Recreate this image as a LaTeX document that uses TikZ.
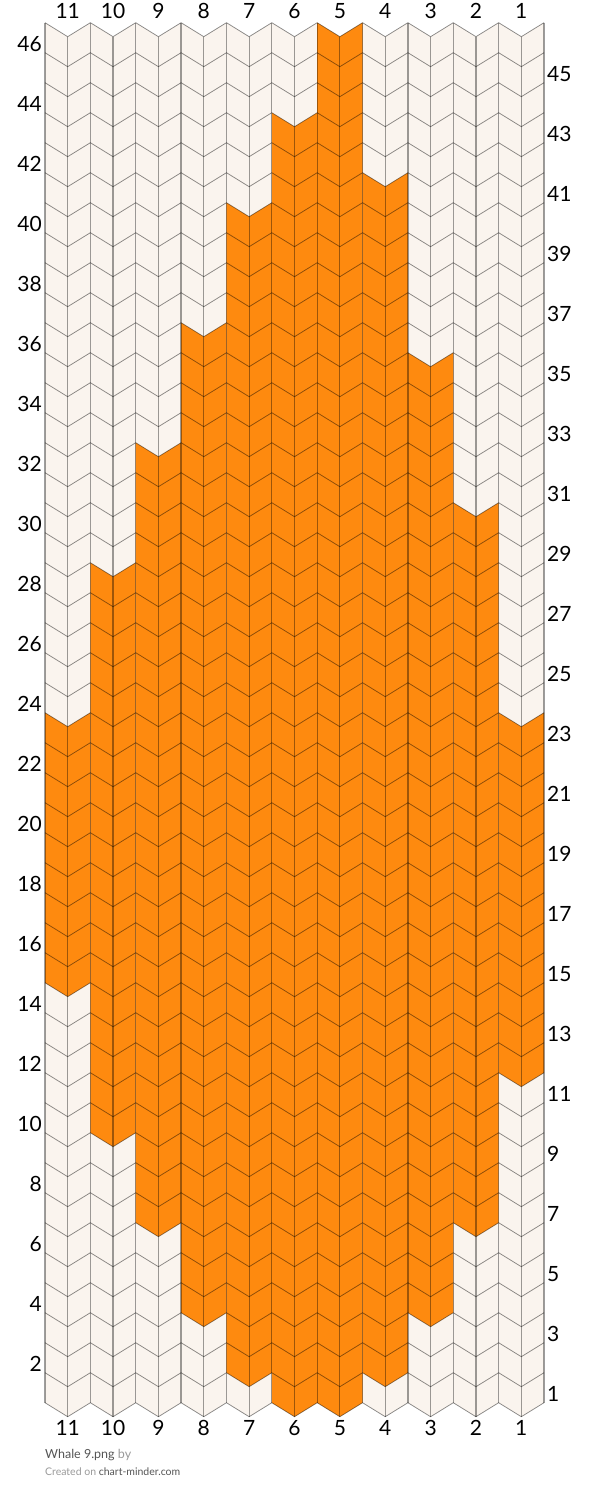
\documentclass[tikz,border=0pt]{standalone}
\usepackage{fontspec}
\setmainfont{Lato}
\definecolor{cream}{HTML}{FAF4EE}
\definecolor{knitorange}{HTML}{FE8A0F}
\definecolor{darktxt}{HTML}{555555}
\definecolor{lighttxt}{HTML}{9A9A9A}
\tikzset{
  vline/.style={draw=black, draw opacity=0.38, line width=1.2pt},
  chevline/.style={draw=black, draw opacity=0.45, line width=0.75pt, line join=miter},
  numlabel/.style={inner sep=0pt, font=\fontsize{21}{21}\selectfont},
}
\begin{document}
\begin{tikzpicture}[x=1pt,y=-1pt]
\def\w{45.3636}
\fill[white] (0,0) rectangle (589,1503);
\useasboundingbox (0,0) rectangle (589,1503);
% cream background per column
\foreach \i in {0,...,10} {
  \fill[cream] ({45+\i*\w},22.7) -- ({45+(\i+0.5)*\w},36.7) -- ({45+(\i+1)*\w},22.7)
    -- ({45+(\i+1)*\w},1402.7) -- ({45+(\i+0.5)*\w},1416.7) -- ({45+\i*\w},1402.7) -- cycle;
}
% orange columns: column/lowest row/highest row
\foreach \c/\lo/\hi in {1/12/23, 2/7/30, 3/4/35, 4/2/41, 5/1/46, 6/1/43, 7/2/40, 8/4/36, 9/7/32, 10/10/28, 11/15/23} {
  \pgfmathsetmacro\xa{45+(11-\c)*\w}
  \pgfmathsetmacro\xm{\xa+0.5*\w}
  \pgfmathsetmacro\xb{\xa+\w}
  \pgfmathsetmacro\yt{22.7+(46-\hi)*30}
  \pgfmathsetmacro\yb{22.7+(47-\lo)*30}
  \fill[knitorange] (\xa,\yt) -- (\xm,{\yt+14}) -- (\xb,\yt) -- (\xb,\yb) -- (\xm,{\yb+14}) -- (\xa,\yb) -- cycle;
}
% vertical lines
\foreach \j in {0,...,22} {
  \pgfmathsetmacro\xx{45+\j*\w/2}
  \ifodd\j
    \draw[vline] (\xx,36.7) -- (\xx,1416.7);
  \else
    \draw[vline] (\xx,22.7) -- (\xx,1402.7);
  \fi
}
% chevron lines
\foreach \k in {0,...,46} {
  \pgfmathsetmacro\yy{22.7+\k*30}
  \draw[chevline] (45,\yy) \foreach \i in {0,...,10} { -- ({45+(\i+0.5)*\w},{\yy+14}) -- ({45+(\i+1)*\w},\yy) };
}
% column labels
\foreach \c in {1,...,11} {
  \node[numlabel] (ct\c) at ({45+(11-\c+0.5)*\w},11.2) {\c};
  \node[numlabel] (cb\c) at ({45+(11-\c+0.5)*\w},1428) {\c};
}
% row labels
\foreach \r in {2,4,...,46} {
  \node[numlabel, anchor=east] (r\r) at (42,{22.7+(46-\r)*30+21}) {\r};
}
\foreach \r in {1,3,...,45} {
  \node[numlabel, anchor=west] (r\r) at (547,{22.7+(46-\r)*30+21}) {\r};
}
% footer
\node[inner sep=0pt, anchor=base west, font=\fontsize{12.5}{12.5}\selectfont] (title) at (45,1458.3)
  {\textcolor{darktxt}{Whale 9.png} \textcolor{lighttxt}{by}};
\node[inner sep=0pt, anchor=base west, font=\fontsize{10.5}{10.5}\selectfont] (credit) at (45,1475.5)
  {\textcolor{lighttxt}{Created on} \textcolor{darktxt}{chart-minder.com}};
\end{tikzpicture}
\end{document}
